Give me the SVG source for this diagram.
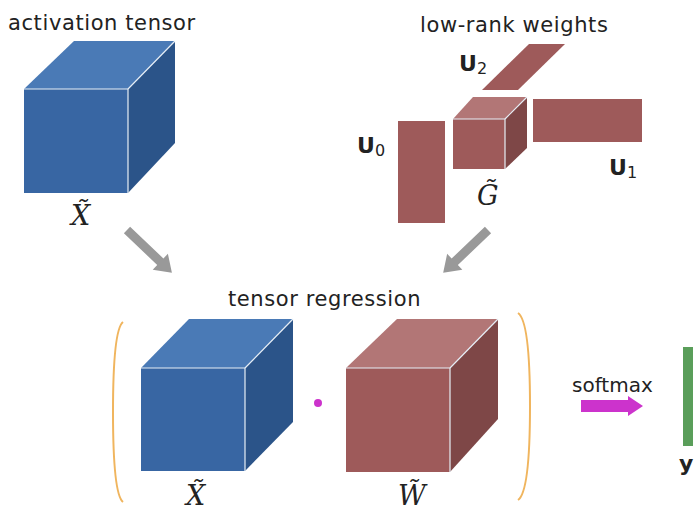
<svg xmlns="http://www.w3.org/2000/svg" width="696" height="512" viewBox="0 0 696 512">
<style>
.lbl{font-family:"DejaVu Sans","Open Sans",sans-serif;font-size:21px;letter-spacing:0.6px;fill:#222}
.math{font-family:"DejaVu Serif","Liberation Serif",serif;font-style:italic;font-size:27px;fill:#222}
.U{font-family:"DejaVu Sans",sans-serif;font-weight:bold;font-size:22px;fill:#222}
.sub{font-family:"DejaVu Sans",sans-serif;font-weight:normal;font-size:16px;fill:#222}
.bf{fill:#3866a3}.bt{fill:#4a7ab6}.bs{fill:#2b5489}
.rf{fill:#9e5a5a}.rt{fill:#b27676}.rs{fill:#7e4747}
.edge{fill:none;stroke:#e6eef6;stroke-width:1.2}
.br{fill:none;stroke:#f0b55e;stroke-width:2}
.garr{fill:#999}
</style>
<text class="lbl" x="8" y="30">activation tensor</text>
<g id="cube-x-top">
<polygon class="bt" points="24,89 74,41 175,41 128,89"/>
<polygon class="bs" points="128,89 175,41 175,143 128,193"/>
<rect class="bf" x="24" y="89" width="104" height="104"/>
<polyline class="edge" points="24,89 128,89 128,193"/>
<line class="edge" x1="128" y1="89" x2="175" y2="41"/>
<text class="math" x="71" y="225">X&#771;</text>
</g>
<text class="lbl" x="420" y="32">low-rank weights</text>
<g id="U2">
<polygon class="rf" points="529,44 565,44 518,90 482,90"/>
<text class="U" x="459" y="71">U<tspan class="sub" dy="3">2</tspan></text>
</g>
<g id="G">
<polygon class="rt" points="453,119 473,97 527,97 505,119"/>
<polygon class="rs" points="505,119 527,97 527,148 505,169"/>
<rect class="rf" x="453" y="119" width="52" height="50"/>
<polyline class="edge" points="453,119 505,119 505,169"/>
<line class="edge" x1="505" y1="119" x2="527" y2="97"/>
<text class="math" x="477" y="205" font-size="25">G&#771;</text>
</g>
<g id="U1">
<rect class="rf" x="533" y="99" width="109" height="43"/>
<text class="U" x="609" y="175">U<tspan class="sub" dy="3">1</tspan></text>
</g>
<g id="U0">
<rect class="rf" x="398" y="121" width="47" height="102"/>
<text class="U" x="357" y="153">U<tspan class="sub" dy="3">0</tspan></text>
</g>
<g id="connectors">
<polygon class="garr" transform="translate(127,230) rotate(43.6)" points="0,-4.5 46,-4.5 46,-11 62,0 46,11 46,4.5 0,4.5"/>
<polygon class="garr" transform="translate(488,230) rotate(136.3)" points="0,-4.5 46,-4.5 46,-11 62,0 46,11 46,4.5 0,4.5"/>
<polygon fill="#cc33cc" points="581,400 628,400 628,396 643,406 628,416 628,412 581,412"/>
</g>
<text class="lbl" x="228" y="306">tensor regression</text>
<path class="br" d="M123,322 Q113,330 113,412 Q113,494 123,502"/>
<path class="br" d="M518,313 Q530,321 530,406 Q530,492 518,500"/>
<g id="cube-x-bottom">
<polygon class="bt" points="141,368 189,319 293,319 245,368"/>
<polygon class="bs" points="245,368 293,319 293,422 245,471"/>
<rect class="bf" x="141" y="368" width="104" height="103"/>
<polyline class="edge" points="141,368 245,368 245,471"/>
<line class="edge" x1="245" y1="368" x2="293" y2="319"/>
<text class="math" x="186" y="505">X&#771;</text>
</g>
<circle cx="318" cy="403" r="4" fill="#cc33cc"/>
<g id="cube-w">
<polygon class="rt" points="346,368 397,319 498,319 450,368"/>
<polygon class="rs" points="450,368 498,319 498,419 450,472"/>
<rect class="rf" x="346" y="368" width="104" height="104"/>
<polyline class="edge" points="346,368 450,368 450,472"/>
<line class="edge" x1="450" y1="368" x2="498" y2="319"/>
<text class="math" x="398" y="505">W&#771;</text>
</g>
<text class="lbl" x="572" y="392" style="font-size:20px;letter-spacing:0">softmax</text>
<g id="y">
<rect x="683" y="347" width="10" height="99" fill="#5a9e5a"/>
<text class="U" x="679" y="471">y</text>
</g>
</svg>
